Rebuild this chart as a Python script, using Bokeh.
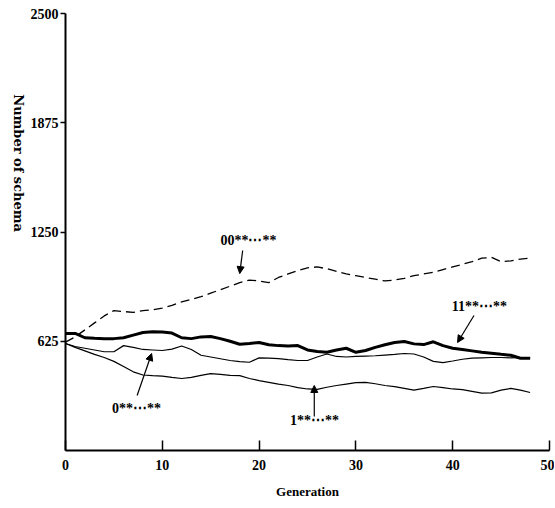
import math
from bokeh.plotting import figure
from bokeh.models import Range1d, FixedTicker, Label, Arrow, NormalHead
from bokeh.embed import file_html
from bokeh.resources import INLINE

generation = list(range(49))

s00 = [620, 650, 690, 730, 770, 800, 795, 790, 800, 805, 815, 830, 850, 865, 880, 900,
       920, 940, 960, 975, 970, 960, 990, 1010, 1030, 1045, 1050, 1040, 1025, 1010, 1000,
       990, 980, 970, 975, 985, 1000, 1010, 1020, 1035, 1050, 1065, 1080, 1100, 1105,
       1080, 1085, 1095, 1100]

s11 = [670, 670, 645, 642, 640, 640, 645, 660, 675, 680, 678, 672, 645, 640, 650, 652,
       640, 625, 608, 612, 618, 605, 600, 598, 600, 575, 566, 562, 575, 585, 562, 572,
       590, 605, 618, 624, 610, 606, 622, 600, 585, 578, 570, 562, 556, 550, 545, 528, 528]

s0 = [612, 595, 585, 575, 565, 565, 600, 590, 578, 575, 572, 580, 598, 578, 545, 535,
      525, 515, 508, 505, 530, 528, 526, 520, 515, 515, 535, 552, 538, 535, 538, 540,
      542, 546, 550, 555, 552, 535, 510, 503, 512, 522, 528, 530, 532, 532, 530, 532, 530]

s1 = [612, 590, 570, 550, 532, 510, 480, 450, 432, 428, 425, 418, 412, 418, 430, 440,
      435, 430, 428, 412, 400, 390, 380, 372, 360, 352, 350, 362, 372, 380, 388, 390,
      382, 372, 365, 355, 345, 355, 366, 360, 352, 348, 338, 328, 330, 345, 355, 345, 332]

x_ticks = [0, 10, 20, 30, 40, 50]
y_ticks = [625, 1250, 1875, 2500]
labels = ["00**\u22ef**", "11**\u22ef**", "0**\u22ef**", "1**\u22ef**"]

FONT = "Liberation Serif"

p = figure(width=554, height=506, output_backend="svg", toolbar_location=None,
           x_range=Range1d(0, 50), y_range=Range1d(0, 2500),
           min_border_left=61, min_border_right=5, min_border_top=13, min_border_bottom=56)
p.outline_line_color = None
p.grid.visible = False
p.background_fill_color = "white"

for ax in (p.xaxis[0], p.yaxis[0]):
    ax.axis_line_width = 2
    ax.axis_line_color = "black"
    ax.major_tick_line_color = "black"
    ax.major_tick_line_width = 1.5
    ax.minor_tick_line_color = None
    ax.major_label_text_font = FONT
    ax.major_label_text_font_style = "bold"
    ax.major_label_text_font_size = "14px"
    ax.major_label_text_color = "black"
    ax.axis_label_text_color = "black"
    ax.axis_label_text_font_style = "bold"

p.xaxis.ticker = FixedTicker(ticks=x_ticks)
p.xaxis.major_tick_in = 10
p.xaxis.major_tick_out = 0
p.xaxis.major_label_standoff = 9
p.xaxis.axis_label = "Generation"
p.xaxis.axis_label_text_font = FONT
p.xaxis.axis_label_text_font_size = "13px"
p.xaxis.axis_label_standoff = 11

yax = p.yaxis[0]
yax.ticker = FixedTicker(ticks=y_ticks)
yax.major_tick_in = 0
yax.major_tick_out = 5
yax.major_label_standoff = 2
yax.axis_label = "Number of schema"
yax.axis_label_orientation = -math.pi / 2
yax.axis_label_align = "center"
yax.axis_label_text_font = "DejaVu Serif"
yax.axis_label_text_font_size = "13px"
yax.axis_label_standoff = 9

p.line(generation, s00, line_color="black", line_width=1.3, line_dash="9 5")
p.line(generation, s11, line_color="black", line_width=3)
p.line(generation, s0, line_color="black", line_width=1.2)
p.line(generation, s1, line_color="black", line_width=1.2)

ann_pos = [(16.0, 1201), (39.9, 824), (4.8, 240), (23.2, 172)]
arrow_pos = [((18.3, 1144), (18.0, 1012)),
             ((42.2, 772), (40.5, 618)),
             ((7.4, 315), (8.9, 555)),
             ((25.7, 195), (25.7, 372))]

for txt, (tx, ty), ((x0, y0), (x1, y1)) in zip(labels, ann_pos, arrow_pos):
    p.add_layout(Label(x=tx, y=ty, text=txt, text_font=FONT, text_font_style="bold",
                       text_font_size="14px", text_align="left", text_baseline="middle",
                       text_color="black"))
    p.add_layout(Arrow(x_start=x0, y_start=y0, x_end=x1, y_end=y1, line_width=1.2,
                       line_color="black",
                       end=NormalHead(size=7, fill_color="black", line_color="black")))

open("out.html", "w").write(file_html(p, INLINE))
